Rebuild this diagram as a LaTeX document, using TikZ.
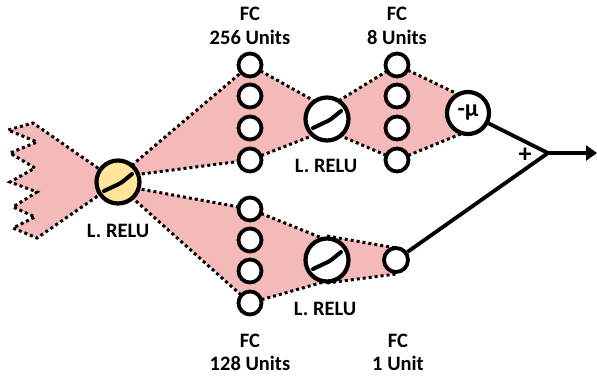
\documentclass[tikz,border=0pt]{standalone}
\usepackage{fontspec}
\setmainfont{Carlito}
\usetikzlibrary{arrows.meta,calc}
\definecolor{pinkfill}{RGB}{244,185,185}
\definecolor{yellowfill}{RGB}{255,229,153}
\tikzset{
  region/.style={fill=pinkfill, draw=none},
  dotedge/.style={line width=3pt, dash pattern=on 3pt off 3pt, black},
  unitc/.style={circle, draw, line width=3.8pt, fill=white, minimum size=23pt, inner sep=0pt},
  actc/.style={circle, draw, line width=4.2pt, fill=white, minimum size=43pt, inner sep=0pt},
  lbl/.style={font=\fontsize{20.5}{24}\selectfont\bfseries, inner sep=0pt, anchor=base},
  relu/.style={line width=4pt, line cap=round, line join=round, rounded corners=3pt},
  wire/.style={line width=3.8pt, line join=miter}
}
\begin{document}
\begin{tikzpicture}[x=1pt,y=-1pt]
\useasboundingbox (0,0) rectangle (597,376);
% centres
\coordinate (Y) at (118,182);
\coordinate (U1) at (250,65);  \coordinate (U2) at (250,96);
\coordinate (U3) at (250,128); \coordinate (U4) at (250,160);
\coordinate (A1) at (327,119);
\coordinate (E1) at (397,65);  \coordinate (E2) at (397,96);
\coordinate (E3) at (397,128); \coordinate (E4) at (397,160);
\coordinate (M) at (468,113);
\coordinate (L1) at (250,209); \coordinate (L2) at (250,240);
\coordinate (L3) at (250,271); \coordinate (L4) at (250,303);
\coordinate (A2) at (327,260);
\coordinate (O) at (396,260);
\coordinate (apex) at (548,153);
\coordinate (tipend) at (597,153);
% region corner points
\coordinate (Yu) at (118,177); \coordinate (Yl) at (118,185);
\coordinate (A1t) at (327,108); \coordinate (A1b) at (327,130);
\coordinate (A2t) at (327,240); \coordinate (A2b) at (327,281);
\coordinate (A2tr) at (327,236); \coordinate (A2br) at (327,283);
\coordinate (Ot) at (396,248); \coordinate (Ob) at (396,274);
\coordinate (Mt) at (468,99); \coordinate (Mb) at (468,131);

% left jagged input region
\path[region] (33,123) -- (8,130) -- (37,142) -- (10,153) -- (35,168) -- (10,182)
  -- (37,192) -- (13,207) -- (35,217) -- (13,228) -- (37,238) -- (Y) -- cycle;
\draw[dotedge] (Y) -- (33,123) -- (8,130) -- (37,142) -- (10,153) -- (35,168) -- (10,182)
  -- (37,192) -- (13,207) -- (35,217) -- (13,228) -- (37,238) -- (Y);

% upper branch regions
\path[region] (Yu) -- (U1) -- (U4) -- cycle;
\draw[dotedge] (Yu) -- (U1);
\draw[dotedge] (Yu) -- (U4);
\path[region] (U1) -- (A1t) -- (E1) -- (E4) -- (A1b) -- (U4) -- cycle;
\draw[dotedge] (U1) -- (A1t) -- (E1);
\draw[dotedge] (U4) -- (A1b) -- (E4);
\path[region] (E1) -- (Mt) -- (Mb) -- (E4) -- cycle;
\draw[dotedge] (E1) -- (Mt);
\draw[dotedge] (E4) -- (Mb);

% lower branch regions
\path[region] (Yl) -- (L1) -- (L4) -- cycle;
\draw[dotedge] (Yl) -- (L1);
\draw[dotedge] (Yl) -- (L4);
\path[region] (L1) -- (A2t) -- (A2tr) -- (Ot) -- (Ob) -- (A2br) -- (A2b) -- (L4) -- cycle;
\draw[dotedge] (L1) -- (A2t);
\draw[dotedge] (L4) -- (A2b);
\draw[dotedge] (A2tr) -- (Ot);
\draw[dotedge] (A2br) -- (Ob);

% nodes
\node[actc, fill=yellowfill] (y) at (Y) {};
\foreach \n in {U1,U2,U3,U4,E1,E2,E3,E4,L1,L2,L3,L4} {\node[unitc] (n\n) at (\n) {};}
\node[actc] (a1) at (A1) {};
\node[actc] (a2) at (A2) {};
\node[actc, minimum size=42pt, font=\fontsize{24}{28}\selectfont\bfseries] (m) at (M) {-μ};
\node[unitc, minimum size=24pt] (o) at (O) {};

% relu glyphs
\foreach \c in {y,a1,a2} {
  \draw[relu] ($(\c.center)+(-14,9)$) -- ($(\c.center)+(3,1)$) -- ($(\c.center)+(14,-8)$);
}

% output wiring
\draw[wire] (m) -- (apex) -- (o);
\draw[line width=3.8pt, -{Triangle[length=11pt,width=15pt]}] (apex) -- (tipend);
\node[font=\fontsize{26}{30}\selectfont\bfseries, inner sep=0pt] (plus) at (525,155) {+};

% labels
\node[lbl] (t1) at (250,20) {FC};
\node[lbl] (t2) at (250,44) {256 Units};
\node[lbl] (t3) at (397,20) {FC};
\node[lbl] (t4) at (397,44) {8 Units};
\node[lbl] (t5) at (250,347) {FC};
\node[lbl] (t6) at (250,370) {128 Units};
\node[lbl] (t7) at (398,347) {FC};
\node[lbl] (t8) at (398,370) {1 Unit};
\node[lbl] (r1) at (118,237) {L. RELU};
\node[lbl] (r2) at (326,172) {L. RELU};
\node[lbl] (r3) at (325,315) {L. RELU};
\end{tikzpicture}
\end{document}
